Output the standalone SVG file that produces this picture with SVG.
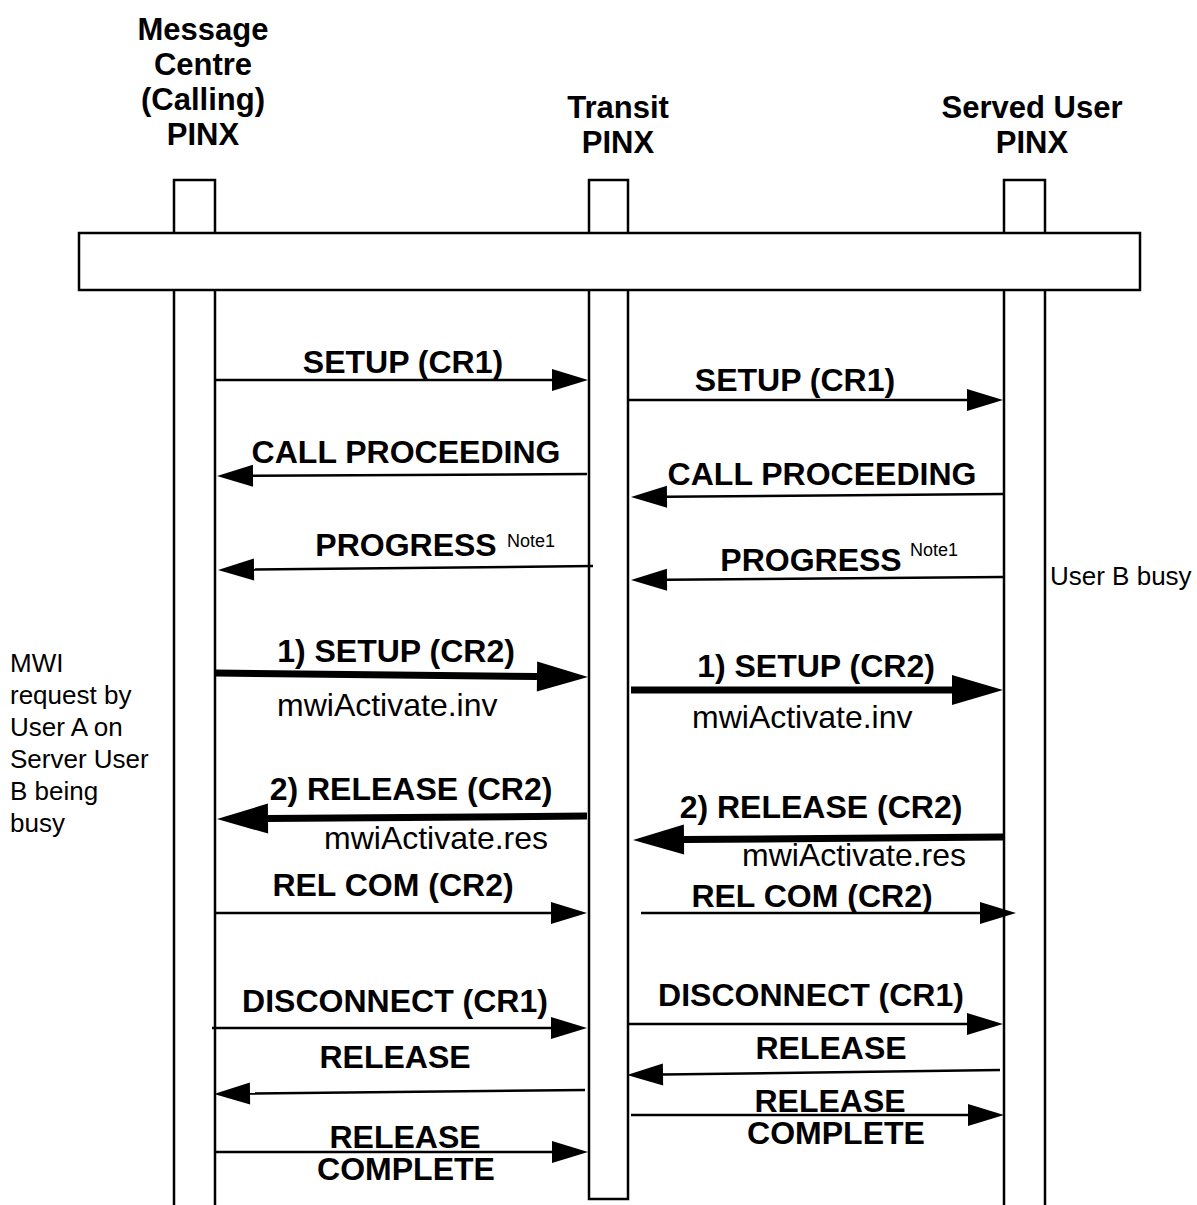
<svg xmlns="http://www.w3.org/2000/svg" width="1197" height="1205" viewBox="0 0 1197 1205">
<style>
.lane{fill:#fff;stroke:#000;stroke-width:2.5}
.hd{font-family:"Liberation Sans",Arial,sans-serif;font-weight:bold;font-size:31px;text-anchor:middle;fill:#000}
.lb{font-family:"Liberation Sans",Arial,sans-serif;font-weight:bold;font-size:32px;text-anchor:middle;fill:#000}
.rg{font-family:"Liberation Sans",Arial,sans-serif;font-size:32px;fill:#000}
.nt{font-family:"Liberation Sans",Arial,sans-serif;font-size:26px;fill:#000}
.sup{font-family:"Liberation Sans",Arial,sans-serif;font-size:18px;fill:#000}
.thin{fill:none;stroke:#000;stroke-width:2.5;marker-end:url(#ah)}
.thick{fill:none;stroke:#000;stroke-width:7;marker-end:url(#ahb)}
</style>
<defs>
<marker id="ah" markerUnits="userSpaceOnUse" viewBox="0 -11 36 22" refX="0" refY="0" markerWidth="36" markerHeight="22" orient="auto" overflow="visible">
<path d="M0,-11 L36,0 L0,11 z" fill="#000"/>
</marker>
<marker id="ahb" markerUnits="userSpaceOnUse" viewBox="0 -15 51 30" refX="0" refY="0" markerWidth="51" markerHeight="30" orient="auto" overflow="visible">
<path d="M0,-15 L51,0 L0,15 z" fill="#000"/>
</marker>
</defs>
<rect width="1197" height="1205" fill="#fff"/>

<g id="lane-mc">
<path class="lane" d="M174,1207 V180 H215 V1207"/>
<text class="hd" x="203" y="40">Message</text>
<text class="hd" x="203" y="75">Centre</text>
<text class="hd" x="203" y="110">(Calling)</text>
<text class="hd" x="203" y="145">PINX</text>
</g>
<g id="lane-transit">
<rect class="lane" x="589" y="180" width="39" height="1019"/>
<text class="hd" x="618" y="118">Transit</text>
<text class="hd" x="618" y="153">PINX</text>
</g>
<g id="lane-served">
<path class="lane" d="M1004,1207 V180 H1045 V1207"/>
<text class="hd" x="1032" y="118">Served User</text>
<text class="hd" x="1032" y="153">PINX</text>
</g>
<g id="bar">
<rect class="lane" x="79" y="233" width="1061" height="57"/>
</g>

<g id="connectors">
<path class="thin" d="M215,380 L552,380"/>
<path class="thin" d="M629,400 L967,400"/>
<path class="thin" d="M587,474 L253,475.8"/>
<path class="thin" d="M1003,494 L667,496.7"/>
<path class="thin" d="M593,566 L254,569.6"/>
<path class="thin" d="M1003,577 L667,579.7"/>
<path class="thick" d="M215,673 L537,676.5"/>
<path class="thick" d="M631,690 L952,690"/>
<path class="thick" d="M587,816 L268,818.6"/>
<path class="thick" d="M1003,837 L684,839.6"/>
<path class="thin" d="M215,913 L551,913"/>
<path class="thin" d="M641,913 L980,913"/>
<path class="thin" d="M212,1028 L551,1028"/>
<path class="thin" d="M629,1024 L967,1024"/>
<path class="thin" d="M585,1090 L250,1093.6"/>
<path class="thin" d="M1000,1070 L663,1074.5"/>
<path class="thin" d="M215,1152 L552,1152"/>
<path class="thin" d="M631,1115 L968,1115"/>
</g>

<g id="labels">
<text class="lb" x="403" y="373">SETUP (CR1)</text>
<text class="lb" x="795" y="391">SETUP (CR1)</text>
<text class="lb" x="406" y="463">CALL PROCEEDING</text>
<text class="lb" x="822" y="485">CALL PROCEEDING</text>
<text class="lb" x="406" y="556">PROGRESS</text>
<text class="sup" x="507" y="547">Note1</text>
<text class="lb" x="811" y="571">PROGRESS</text>
<text class="sup" x="910" y="556">Note1</text>
<text class="lb" x="396" y="662">1) SETUP (CR2)</text>
<text class="rg" x="277" y="716">mwiActivate.inv</text>
<text class="lb" x="816" y="677">1) SETUP (CR2)</text>
<text class="rg" x="692" y="728">mwiActivate.inv</text>
<text class="lb" x="411" y="800">2) RELEASE (CR2)</text>
<text class="rg" x="324" y="849">mwiActivate.res</text>
<text class="lb" x="821" y="818">2) RELEASE (CR2)</text>
<text class="rg" x="742" y="866">mwiActivate.res</text>
<text class="lb" x="393" y="896">REL COM (CR2)</text>
<text class="lb" x="812" y="907">REL COM (CR2)</text>
<text class="lb" x="395" y="1012">DISCONNECT (CR1)</text>
<text class="lb" x="811" y="1006">DISCONNECT (CR1)</text>
<text class="lb" x="395" y="1068">RELEASE</text>
<text class="lb" x="831" y="1059">RELEASE</text>
<text class="lb" x="405" y="1148">RELEASE</text>
<text class="lb" x="406" y="1180">COMPLETE</text>
<text class="lb" x="830" y="1112">RELEASE</text>
<text class="lb" x="836" y="1144">COMPLETE</text>
</g>

<g id="notes">
<text class="nt" x="1050" y="585">User B busy</text>
<text class="nt" x="10" y="672">MWI</text>
<text class="nt" x="10" y="704">request by</text>
<text class="nt" x="10" y="736">User A on</text>
<text class="nt" x="10" y="768">Server User</text>
<text class="nt" x="10" y="800">B being</text>
<text class="nt" x="10" y="832">busy</text>
</g>
</svg>
